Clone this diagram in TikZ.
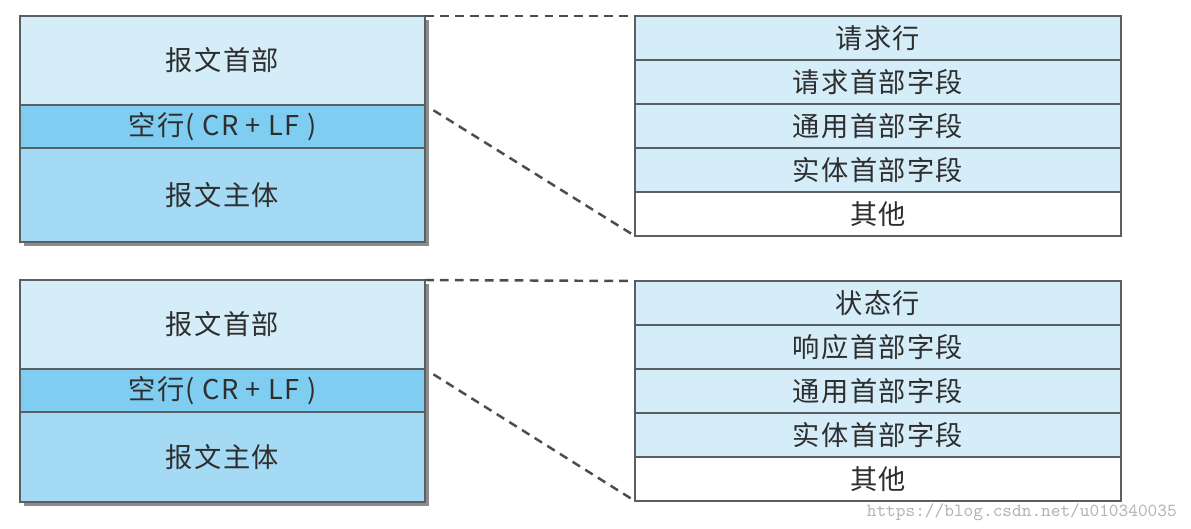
\documentclass[tikz,border=0pt]{standalone}
\usepackage{fontspec}
\setmainfont{Noto Sans CJK SC}[LetterSpace=5]
\usetikzlibrary{positioning, calc, shadows}

\definecolor{hdrblue}{HTML}{D5EDF9}
\definecolor{crlfblue}{HTML}{7FCDF0}
\definecolor{bodyblue}{HTML}{A5DAF4}
\definecolor{rowblue}{HTML}{D5EDF9}
\definecolor{edgegray}{HTML}{5A5F63}
\definecolor{shadowgray}{HTML}{8C8C8C}
\definecolor{inkgray}{HTML}{2E2E2E}

\tikzset{
  part/.style={draw=edgegray, line width=0.9pt, minimum width=8.1cm, inner sep=0pt, outer sep=0pt,
    font=\fontsize{15.5}{18}\selectfont, text=inkgray,
    drop shadow={shadow xshift=0.08cm, shadow yshift=-0.08cm, fill=shadowgray, opacity=1}},
  field/.style={draw=edgegray, line width=0.9pt, fill=rowblue, minimum width=9.72cm, minimum height=0.88cm,
    inner sep=0pt, outer sep=0pt, font=\fontsize{15.5}{18}\selectfont, text=inkgray},
  zoomline/.style={draw=black!70, line width=1.4pt, dash pattern=on 5pt off 3.5pt}
}

\begin{document}
\begin{tikzpicture}
\useasboundingbox (0,0) rectangle (23.82,-10.56);
% request message
\node[part, fill=hdrblue, minimum height=1.78cm, anchor=north west] (hdr1) at (0.4,-0.32) {报文首部};
\node[part, fill=crlfblue, minimum height=0.86cm, below=0pt of hdr1] (crlf1) {空行( CR + LF )};
\node[part, fill=bodyblue, minimum height=1.88cm, below=0pt of crlf1] (body1) {报文主体};
\node[field, anchor=north west] (reqline) at (12.7,-0.32) {请求行};
\node[field, below=0pt of reqline] (reqhdr) {请求首部字段};
\node[field, below=0pt of reqhdr] (genhdr1) {通用首部字段};
\node[field, below=0pt of genhdr1] (enthdr1) {实体首部字段};
\node[field, fill=white, below=0pt of enthdr1] (other1) {其他};
\draw[zoomline] (hdr1.north east) -- (reqline.north west);
\draw[zoomline, shorten <=0.2cm] (crlf1.north east) -- (other1.south west);
% response message
\node[part, fill=hdrblue, minimum height=1.78cm, anchor=north west] (hdr2) at (0.4,-5.6) {报文首部};
\node[part, fill=crlfblue, minimum height=0.86cm, below=0pt of hdr2] (crlf2) {空行( CR + LF )};
\node[part, fill=bodyblue, minimum height=1.8cm, below=0pt of crlf2] (body2) {报文主体};
\node[field, anchor=north west] (statline) at (12.7,-5.62) {状态行};
\node[field, below=0pt of statline] (resphdr) {响应首部字段};
\node[field, below=0pt of resphdr] (genhdr2) {通用首部字段};
\node[field, below=0pt of genhdr2] (enthdr2) {实体首部字段};
\node[field, fill=white, below=0pt of enthdr2] (other2) {其他};
\draw[zoomline] (hdr2.north east) -- (statline.north west);
\draw[zoomline, shorten <=0.2cm] (crlf2.north east) -- (other2.south west);
% watermark
\node[anchor=east, text=black!30, font=\ttfamily\fontsize{10.5}{12}\selectfont] (mark) at (23.66,-10.24) {https://blog.csdn.net/u010340035};
\end{tikzpicture}
\end{document}
